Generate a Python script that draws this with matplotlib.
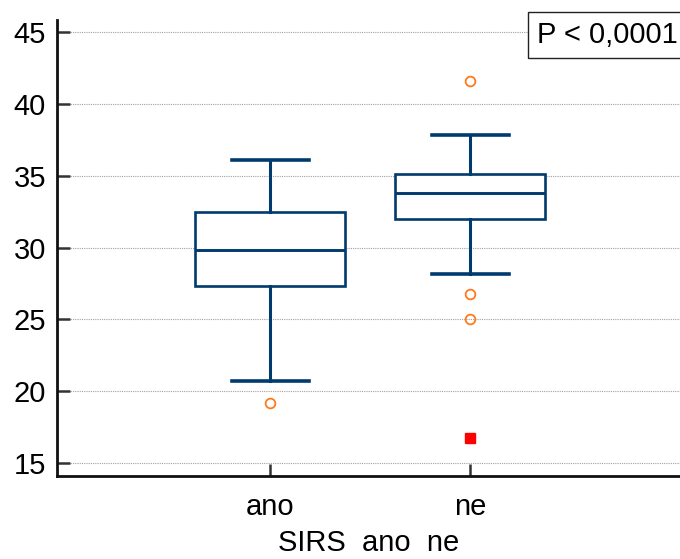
import matplotlib
matplotlib.use("Agg")
import matplotlib.pyplot as plt

plt.rcParams['font.family'] = ['Liberation Sans', 'DejaVu Sans']

categories = ["ano", "ne"]
q1 = [27.35, 31.97]
median = [29.86, 33.81]
q3 = [32.46, 35.16]
whisker_low = [20.72, 28.18]
whisker_high = [36.14, 37.88]
outliers = [[19.21], [41.62, 26.77, 25.03]]
far_outliers = [[], [16.74]]
p_text = "P < 0,0001"
x_label = "SIRS  ano  ne"
y_ticks = [15, 20, 25, 30, 35, 40, 45]

navy = "#003a6e"
orange = "#ff7a1c"

fig = plt.figure(figsize=(6.8, 5.59), dpi=100)
ax = fig.add_axes([57/680, 83/559, 1 - 57/680, (476-20)/559])

stats = []
for i, c in enumerate(categories):
    stats.append(dict(label=c, q1=q1[i], med=median[i], q3=q3[i],
                      whislo=whisker_low[i], whishi=whisker_high[i],
                      fliers=outliers[i]))
positions = list(range(1, len(categories) + 1))
ax.bxp(stats, positions=positions, widths=0.75, capwidths=0.385,
       showfliers=True, patch_artist=True,
       boxprops=dict(facecolor="white", edgecolor=navy, linewidth=1.9),
       medianprops=dict(color=navy, linewidth=2.1),
       whiskerprops=dict(color=navy, linewidth=2.2),
       capprops=dict(color=navy, linewidth=2.6),
       flierprops=dict(marker="o", markerfacecolor="none", markeredgecolor=orange,
                       markersize=7, markeredgewidth=1.3, linestyle="none"))
for i, vals in enumerate(far_outliers):
    if vals:
        ax.plot([positions[i]] * len(vals), vals, linestyle="none", marker="s",
                markersize=7, color="red", zorder=5)

ax.set_xlim(-0.065, 3.05)
ax.set_ylim(14.09, 45.86)
ax.set_yticks(y_ticks)
ax.set_xticks(positions)
ax.set_xticklabels(categories)

for y in y_ticks:
    ax.axhline(y, color="#a0a0a0", linestyle=(0, (1, 1)), linewidth=0.8, zorder=0)

for s in ["top", "right"]:
    ax.spines[s].set_visible(False)
for s in ["left", "bottom"]:
    ax.spines[s].set_linewidth(2.0)
    ax.spines[s].set_color("#111111")

ax.tick_params(axis="both", direction="in", length=9, width=1.8, color="#333333",
               labelsize=21, pad=8)
ax.tick_params(axis="x", pad=12)
ax.set_xlabel(x_label, fontsize=21, labelpad=6)

fig.text(537/680, 1 - 35/559, p_text, fontsize=21, ha="left", va="center",
         bbox=dict(boxstyle="square,pad=0.3", facecolor="white", edgecolor="#222222",
                   linewidth=1.0))

fig.savefig("out.png", dpi=100)
